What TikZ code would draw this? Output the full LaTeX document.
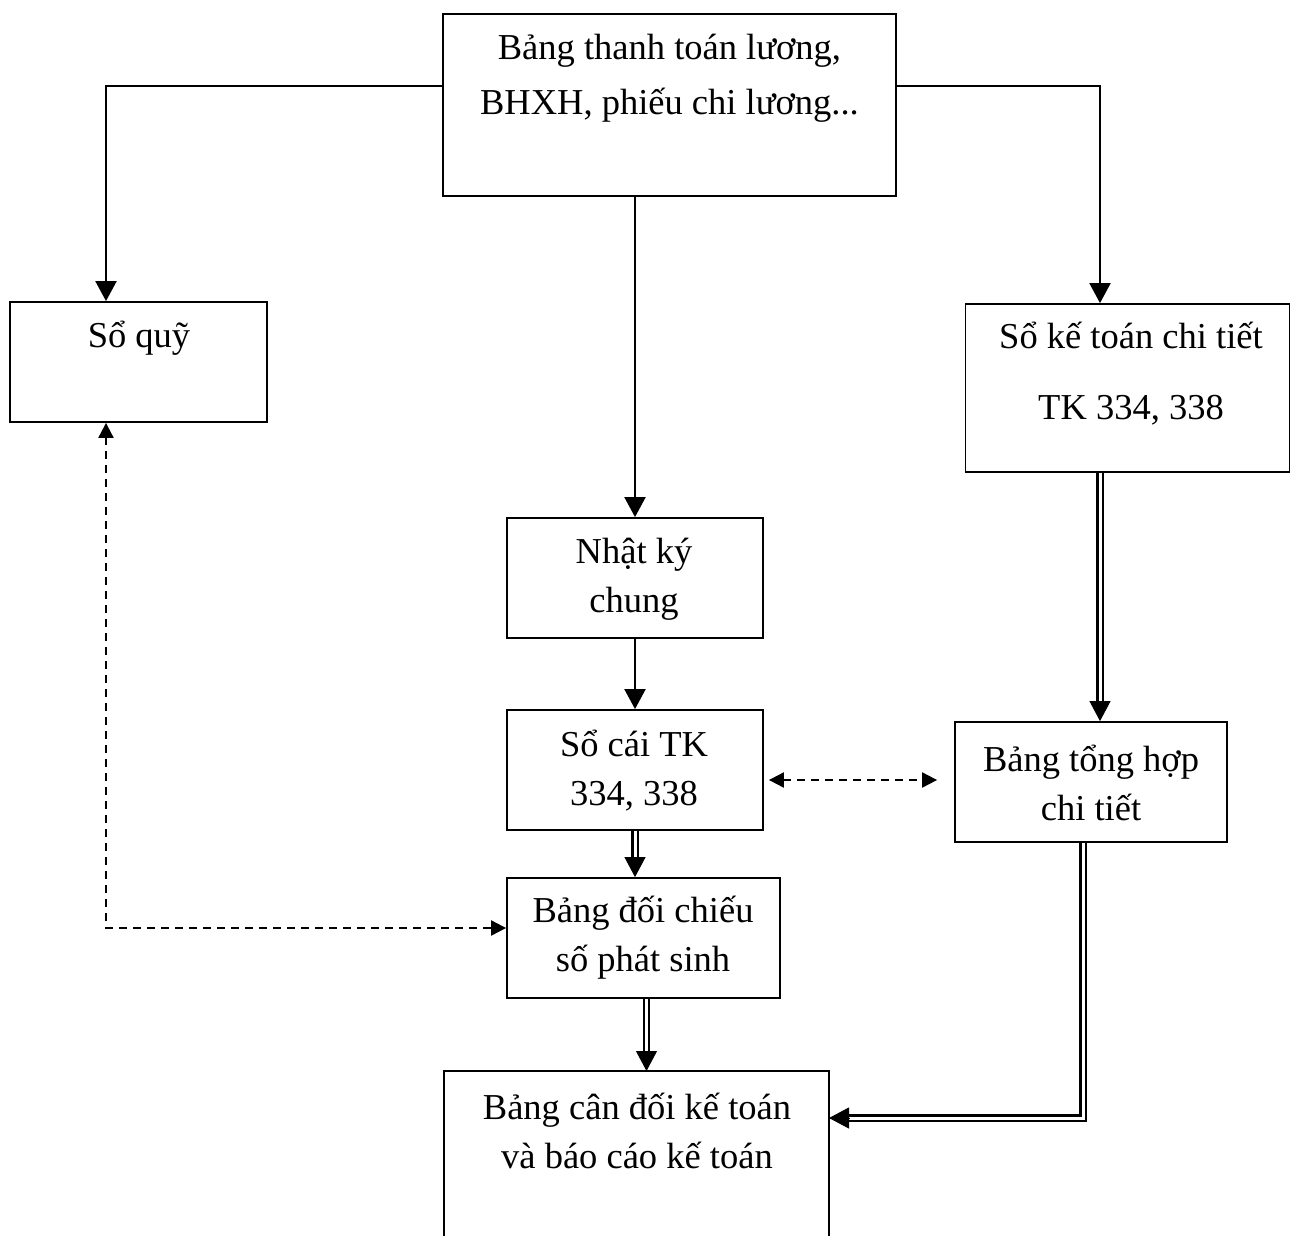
\documentclass[tikz,border=0pt]{standalone}
\usepackage{fontspec}
\setmainfont{Liberation Serif}
\usetikzlibrary{arrows.meta,calc}
\begin{document}
\begin{tikzpicture}[x=1pt,y=-1pt,line width=2pt,
  box/.style={draw,line width=1.8pt,inner sep=0pt},
  txt/.style={align=center,inner sep=0pt,font=\fontsize{36.5}{49}\selectfont},
  solidarrow/.style={-{Triangle[length=20pt,width=21pt]}},
  dasharrow/.style={dash pattern=on 8pt off 6pt,
    {Triangle[length=15pt,width=15pt]}-{Triangle[length=15pt,width=15pt]}},
  dbl/.style={double,double distance=3pt,line width=2.2pt},
  dbltip/.style={-{Triangle[length=20pt,width=21pt]},line width=1pt}]
\useasboundingbox (0,0) rectangle (1291,1235);

% boxes
\node[box,minimum width=453pt,minimum height=182pt] (top) at (669.5,105) {};
\node[box,minimum width=257pt,minimum height=120pt] (quy) at (138.5,362) {};
\node[box,minimum width=324pt,minimum height=168pt] (sokt) at (1127.5,388) {};
\node[box,minimum width=256pt,minimum height=120pt] (nk) at (635,578) {};
\node[box,minimum width=256pt,minimum height=120pt] (socai) at (635,770) {};
\node[box,minimum width=272pt,minimum height=120pt] (tonghop) at (1091,782) {};
\node[box,minimum width=273pt,minimum height=120pt] (doichieu) at (643.5,938) {};
\node[inner sep=0pt,minimum width=383pt,minimum height=92pt] (candoi) at (636.5,1118) {};
\draw[line width=1.8pt] (candoi.north west) ++(0,200) -- (candoi.north west)
  -- (candoi.north east) -- ++(0,200);

% texts
\node[txt,font=\fontsize{36.5}{55}\selectfont] (ttop) at (669.5,78)
  {Bảng thanh toán lương,\\BHXH, phiếu chi lương...};
\node[txt] (tquy) at (139,338) {Sổ quỹ};
\node[txt,font=\fontsize{36.5}{71}\selectfont] (tsokt) at (1131,374)
  {Sổ kế toán chi tiết\\TK 334, 338};
\node[txt] (tnk) at (634,579) {Nhật ký\\chung};
\node[txt] (tsocai) at (634,771) {Sổ cái TK\\334, 338};
\node[txt] (ttonghop) at (1091,783) {Bảng tổng hợp\\chi tiết};
\node[txt] (tdoichieu) at (643,938) {Bảng đối chiếu\\số phát sinh};
\node[txt] (tcandoi) at (637,1131) {Bảng cân đối kế toán\\và báo cáo kế toán};

% single arrows from the source documents
\draw[solidarrow] ([yshift=19pt]top.west) -| ([xshift=-32.5pt]quy.north);
\draw[solidarrow] ([yshift=19pt]top.east) -| ([xshift=-27.5pt]sokt.north);
\draw[solidarrow] (nk.north |- top.south) -- (nk.north);
\draw[solidarrow] (nk.south) -- (socai.north);

% double arrows
\draw[dbl,shorten >=18pt] (socai.south) -- (socai.south |- doichieu.north);
\draw[dbltip] ($(socai.south |- doichieu.north)+(0,-20)$) -- (socai.south |- doichieu.north);

\coordinate (dcb) at ([xshift=3pt]doichieu.south);
\draw[dbl,shorten >=18pt] (dcb) -- (dcb |- candoi.north);
\draw[dbltip] ($(dcb |- candoi.north)+(0,-20)$) -- (dcb |- candoi.north);

\coordinate (sktb) at ([xshift=-27.5pt]sokt.south);
\draw[dbl,shorten >=18pt] (sktb) -- (sktb |- tonghop.north);
\draw[dbltip] ($(sktb |- tonghop.north)+(0,-20)$) -- (sktb |- tonghop.north);

\coordinate (thb) at ([xshift=-8pt]tonghop.south);
\draw[dbl,shorten >=18pt] (thb) |- (candoi.east);
\draw[dbltip] ($(candoi.east)+(20,0)$) -- (candoi.east);

% dashed cross references
\draw[dasharrow] ([xshift=-32.5pt]quy.south) |- ([yshift=10pt]doichieu.west);
\draw[dasharrow,shorten <=5pt,shorten >=17pt] ([yshift=-10pt]socai.east)
  -- ([yshift=-10pt]socai.east -| tonghop.west);
\end{tikzpicture}
\end{document}
